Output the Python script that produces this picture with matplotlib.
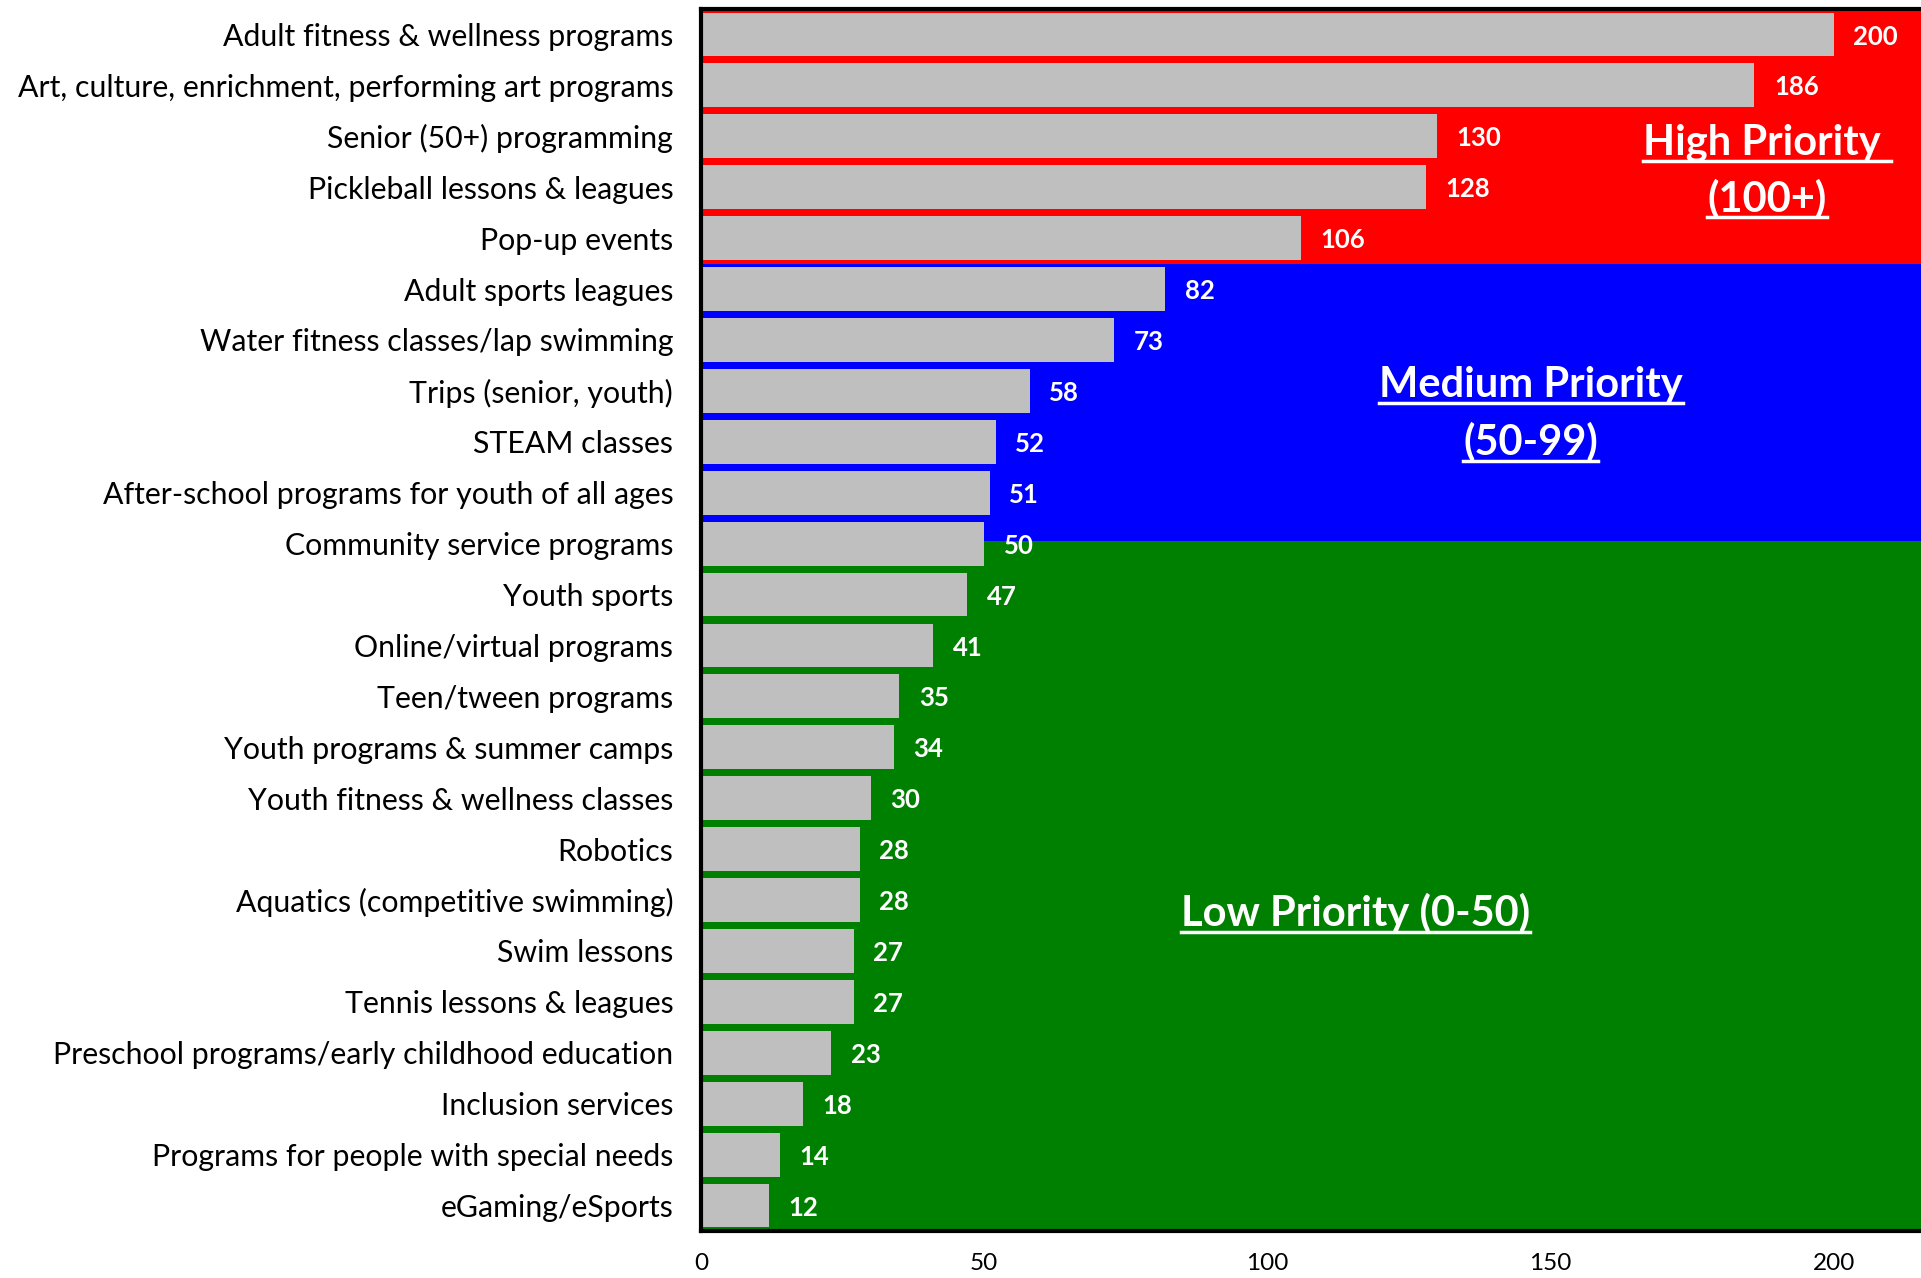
import matplotlib
matplotlib.use("Agg")
import matplotlib.pyplot as plt
from matplotlib.lines import Line2D

categories = [
    "Adult fitness & wellness programs",
    "Art, culture, enrichment, performing art programs",
    "Senior (50+) programming",
    "Pickleball lessons & leagues",
    "Pop-up events",
    "Adult sports leagues",
    "Water fitness classes/lap swimming",
    "Trips (senior, youth)",
    "STEAM classes",
    "After-school programs for youth of all ages",
    "Community service programs",
    "Youth sports",
    "Online/virtual programs",
    "Teen/tween programs",
    "Youth programs & summer camps",
    "Youth fitness & wellness classes",
    "Robotics",
    "Aquatics (competitive swimming)",
    "Swim lessons",
    "Tennis lessons & leagues",
    "Preschool programs/early childhood education",
    "Inclusion services",
    "Programs for people with special needs",
    "eGaming/eSports",
]
values = [200, 186, 130, 128, 106, 82, 73, 58, 52, 51, 50, 47, 41, 35, 34, 30, 28, 28, 27, 27, 23, 18, 14, 12]
xticks = [0, 50, 100, 150, 200]

# priority bands: (row start, row end, colour)
band_edges = [-0.5, 4.5, 9.95, 23.5]
band_colors = ["#FF0000", "#0000FF", "#008000"]
band_labels = [["High Priority ", "(100+)"], ["Medium Priority", "(50-99)"], ["Low Priority (0-50)"]]
band_label_pos = [[(188.2, 2.12), (188.2, 3.22)], [(146.5, 6.88), (146.5, 8.0)], [(115.6, 17.25)]]

FONT = "Lato"

fig = plt.figure(figsize=(19.21, 12.78), dpi=100)
ax = fig.add_axes([701 / 1921, 1 - 1231 / 1278, 1 - 701 / 1921, (1231 - 9) / 1278])

for i in range(len(band_colors)):
    ax.axhspan(band_edges[i], band_edges[i + 1], color=band_colors[i], zorder=0, lw=0)

y = list(range(len(categories)))
ax.barh(y, values, height=0.86, color="#BFBFBF", zorder=2)

for yi, v in zip(y, values):
    ax.annotate(str(v), (v, yi), xytext=(14, -1.5), textcoords="offset points",
                ha="left", va="center", color="white", fontsize=18.5,
                fontweight="bold", family=FONT, zorder=3)

ax.set_xlim(0, 215.4)
ax.set_ylim(23.5, -0.5)
ax.set_yticks(y)
ax.set_yticklabels(categories, fontsize=21.8, family=FONT)
ax.set_xticks(xticks)
ax.set_xticklabels([str(t) for t in xticks], fontsize=17.5, family=FONT)
ax.tick_params(axis="both", length=0)
ax.tick_params(axis="y", pad=20)
ax.tick_params(axis="x", pad=16)
for s in ["left", "top", "bottom"]:
    ax.spines[s].set_linewidth(3)
    ax.spines[s].set_color("black")
    ax.spines[s].set_zorder(5)
ax.spines["right"].set_visible(False)

texts = []
for lines, poss in zip(band_labels, band_label_pos):
    for t, (px, py) in zip(lines, poss):
        txt = ax.text(px, py, t, ha="center", va="center", color="white",
                      fontsize=30, fontweight="bold", family=FONT, zorder=4)
        texts.append(txt)

fig.canvas.draw()
renderer = fig.canvas.get_renderer()
for txt in texts:
    bb = txt.get_window_extent(renderer)
    yline = bb.y0 + 1
    fig.add_artist(Line2D([bb.x0 / fig.bbox.width, bb.x1 / fig.bbox.width],
                          [yline / fig.bbox.height, yline / fig.bbox.height],
                          color="white", lw=2.5, transform=fig.transFigure, zorder=6))

fig.savefig("out.png", dpi=100)
